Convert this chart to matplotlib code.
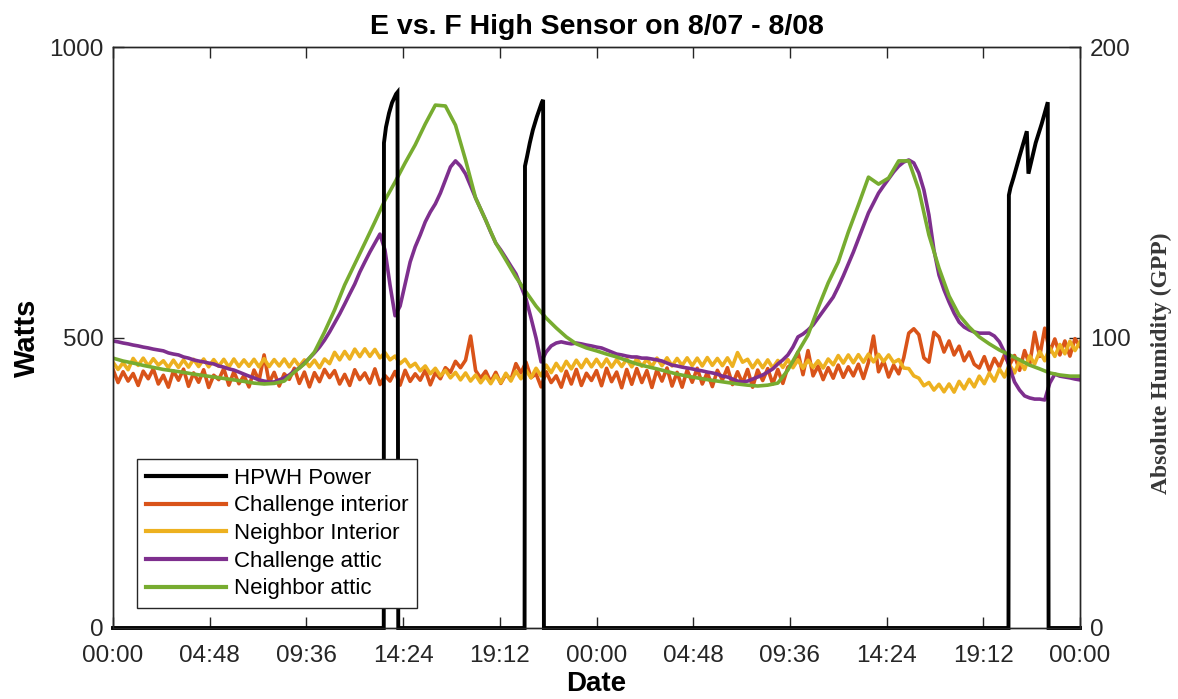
import numpy as np
import matplotlib
matplotlib.use("Agg")
import matplotlib.pyplot as plt

# ---------------- data ----------------
# HPWH power (W), event-based time stamps in hours since 8/07 00:00
power_hours = [0, 13.44, 13.45, 13.55, 13.7, 13.85, 14.05, 14.12, 14.16,
               20.43, 20.45, 20.55, 20.69, 20.84, 21.04, 21.29, 21.35, 21.39,
               44.45, 44.47, 44.55, 44.7, 45.0, 45.36, 45.44, 45.8, 46.1, 46.4, 46.44, 48]
power_watts = [0, 0, 835, 862, 886, 904, 919, 922, 0,
               0, 795, 811, 835, 857, 880, 905, 909, 0,
               0, 745, 758, 775, 812, 855, 782, 835, 868, 905, 0, 0]

# Absolute humidity (GPP), sampled every 15 minutes
challenge_interior = [
    89.0, 84.5, 88.2, 85.0,  87.6, 83.5, 88.4, 85.8,  89.2, 84.0, 87.0, 82.9,
    88.5, 85.3, 89.1, 83.2,  87.8, 84.6, 88.9, 82.8,  87.0, 85.5, 89.3, 83.6,
    88.2, 84.1, 86.9, 83.0,  88.8, 85.2, 94.0, 84.4,  88.0, 83.3, 87.5, 85.6,
    89.4, 84.2, 88.1, 83.0,  87.9, 84.8, 89.0, 86.2,  88.6, 84.0, 87.3, 83.5,
    88.9, 85.5, 87.8, 84.3,  89.2, 83.8, 86.9, 85.0,  88.3, 83.6, 88.7, 84.9,
    87.5, 85.3, 88.8, 83.7,  87.9, 85.8, 89.6, 88.0,  91.8, 89.6, 92.2, 100.5,
    88.6, 86.0, 88.4, 84.7,  88.0, 84.2, 87.3, 85.4,  91.0, 87.8, 91.5, 86.2,
    87.5, 83.0, 88.2, 84.5,  86.8, 82.9, 88.4, 84.0,  89.0, 83.5, 87.7, 85.2,
    88.6, 83.4, 89.4, 84.8,  88.1, 82.7, 89.0, 83.9,  89.3, 84.5, 88.6, 82.8,
    88.9, 85.0, 89.5, 83.3,  88.0, 82.9, 88.8, 84.6,  89.4, 84.0, 87.9, 83.1,
    88.7, 85.4, 89.6, 83.8,  88.2, 84.3, 89.0, 82.9,  88.8, 85.2, 89.3, 84.0,
    89.0, 84.2, 89.8, 91.0,  95.0, 87.2, 95.5, 86.8,  90.2, 85.5, 89.6, 86.0,
    90.5, 86.3, 89.9, 86.8,  90.8, 85.9, 91.5, 100.5, 88.2, 92.0, 86.4, 90.5,
    87.5, 93.0, 101.5, 103.0, 101.0, 93.0, 91.5, 101.8, 100.2, 95.0, 98.8, 94.0,
    97.0, 92.0, 95.0, 90.8,  89.5, 93.4, 88.6, 92.8,  89.8, 94.0, 90.5, 93.8,
    88.7, 95.5, 90.6, 101.8, 93.5, 103.2, 95.0, 99.5, 94.0, 98.8, 93.6, 99.6,
    97.0]

neighbor_interior = [
    91.5, 89.0, 91.3, 88.9,  92.8, 90.4, 92.9, 90.2,  92.7, 90.5, 92.0, 89.6,
    92.2, 89.7, 92.3, 89.8,  92.5, 90.0, 92.6, 89.9,  92.4, 90.1, 92.5, 89.8,
    92.6, 90.0, 92.3, 90.1,  92.5, 89.9, 92.7, 90.0,  92.4, 90.2, 92.6, 89.9,
    92.5, 90.1, 92.3, 90.0,  92.2, 89.6, 92.6, 91.0,  94.9, 92.3, 95.2, 92.6,
    96.0, 93.4, 96.1, 93.5,  95.9, 93.0, 94.8, 92.3,  93.6, 91.0, 92.5, 89.9,
    91.1, 88.5, 90.2, 87.5,  89.4, 86.8, 88.7, 86.1,  88.0, 85.4, 87.8, 85.0,
    87.1, 84.4, 86.7, 84.1,  87.0, 84.4, 87.7, 85.0,  88.4, 85.8, 88.7, 86.1,
    89.4, 86.8, 90.5, 87.9,  91.1, 88.5, 91.8, 89.2,  92.2, 89.6, 92.5, 89.9,
    92.5, 89.9, 92.6, 89.8,  92.4, 90.0, 92.6, 89.9,  92.7, 90.1, 92.5, 90.0,
    92.9, 90.3, 93.0, 90.2,  92.8, 90.4, 93.0, 90.3,  92.9, 90.2, 93.1, 90.4,
    92.8, 90.3, 93.0, 90.1,  94.8, 91.5, 92.5, 89.6,  92.2, 89.6, 92.3, 89.5,
    92.1, 89.7, 92.4, 89.6,  92.3, 89.4, 92.2, 89.7,  92.0, 89.5, 92.6, 90.6,
    93.8, 91.2, 94.0, 91.3,  94.1, 91.5, 94.3, 91.6,  94.2, 91.7, 94.0, 91.4,
    92.4, 89.5, 89.3, 86.8,  86.0, 83.4, 84.5, 81.9,  83.9, 81.3, 84.0, 81.2,
    84.9, 82.3, 85.6, 83.0,  86.7, 84.1, 87.8, 85.0,  89.2, 86.4, 90.6, 87.8,
    92.0, 89.0, 93.7, 90.9,  95.2, 92.0, 96.5, 93.5,  97.6, 94.4, 98.7, 95.5,
    98.5]

challenge_attic = [
    98.8, 98.5, 98.1, 97.8,  97.4, 97.1, 96.7, 96.4,  96.0, 95.7, 95.4, 94.7,
    94.3, 94.0, 93.3, 92.9,  92.3, 91.9, 91.6, 91.2,  90.9, 90.2, 89.8, 89.2,
    88.8, 88.1, 87.4, 86.7,  86.1, 85.4, 85.0, 84.7,  84.7, 85.4, 86.1, 87.1,
    88.5, 89.5, 91.2, 92.9,  94.7, 96.7, 99.1, 101.9, 105.0, 108.1, 111.5, 115.0,
    118.4, 122.5, 126.0, 129.4, 132.5, 135.6, 130.1, 118.1, 107.5, 110.8, 118.4, 126.0,
    131.2, 135.3, 139.8, 143.2, 146.0, 149.7, 154.2, 158.7, 160.8, 159.0, 156.3, 152.2,
    148.0, 144.2, 140.4, 136.3, 132.5, 130.1, 127.4, 124.6, 121.9, 117.7, 113.3, 106.7,
    99.8, 91.6, 95.0, 97.1,  98.1, 98.5, 98.1, 97.8,  98.1, 97.8, 97.4, 97.1,
    96.7, 96.4, 95.7, 95.0,  94.3, 94.0, 93.6, 93.3,  93.3, 92.9, 92.9, 92.6,
    92.3, 91.9, 91.2, 90.5,  90.2, 89.8, 89.5, 89.2,  88.8, 88.5, 88.1, 87.8,
    87.4, 86.7, 86.4, 85.7,  85.0, 84.7, 85.0, 85.7,  86.4, 87.1, 88.1, 89.2,
    90.9, 92.3, 94.0, 96.7,  100.2, 101.2, 102.6, 104.3, 106.7, 109.1, 111.5, 113.9,
    117.4, 121.2, 125.3, 129.4, 133.9, 138.4, 142.9, 146.3, 149.7, 152.2, 154.6, 157.0,
    159.0, 160.4, 161.1, 160.1, 156.6, 150.8, 142.2, 130.1, 121.5, 116.4, 112.2, 108.4,
    105.3, 103.6, 102.6, 101.9, 101.5, 101.5, 101.5, 100.5, 98.5, 95.0, 89.8, 84.7,
    81.9, 79.9, 79.2, 78.8,  78.8, 78.5, 84.3, 87.4,  86.7, 86.4, 86.1, 85.7,
    85.4]

# sampled every 30 minutes
neighbor_attic = [
    92.9, 91.9, 91.2, 90.4, 89.7, 89.0, 88.5, 88.0, 87.4, 86.9,
    86.4, 85.9, 85.4, 84.9, 84.3, 84.0, 84.2, 85.0, 88.1, 90.9,
    95.0, 101.9, 109.5, 118.1, 125.3, 132.5, 139.8, 147.3, 153.5, 160.1,
    166.3, 173.5, 180.0, 179.7, 173.1, 161.1, 148.0, 140.4, 132.5, 126.7,
    120.8, 115.7, 110.8, 106.7, 103.3, 100.2, 97.8, 96.4, 95.4, 94.3,
    93.3, 92.1, 90.9, 90.0, 89.2, 88.3, 87.4, 86.7, 86.1, 85.5,
    85.0, 84.5, 84.0, 83.6, 83.3, 83.6, 84.3, 88.8, 95.0, 100.9,
    110.2, 118.8, 126.0, 136.3, 145.6, 155.2, 152.8, 154.9, 160.8, 160.8,
    150.8, 135.3, 123.9, 114.3, 107.7, 103.6, 100.2, 97.8, 95.7, 94.0,
    92.3, 90.5, 89.2, 87.8, 87.1, 86.7, 86.7]

xtick_hours = [0, 4.8, 9.6, 14.4, 19.2, 24, 28.8, 33.6, 38.4, 43.2, 48]
xtick_labels = ["00:00", "04:48", "09:36", "14:24", "19:12", "00:00",
                "04:48", "09:36", "14:24", "19:12", "00:00"]

hours_q = np.arange(len(challenge_attic)) * 0.25
hours_h = np.arange(len(neighbor_attic)) * 0.5

# ---------------- plot ----------------
plt.rcParams['font.family'] = ['Liberation Sans', 'DejaVu Sans']
fig = plt.figure(figsize=(11.78, 6.99), dpi=100)
ax1 = fig.add_axes([113/1178, 1-628/699, (1080-113)/1178, (628-47)/699])
ax2 = ax1.twinx()

c_black = 'black'
c_orange = '#D95319'
c_yellow = '#EDB120'
c_purple = '#7E2F8E'
c_green = '#77AC30'
lw = 2.6

l2, = ax2.plot(hours_q[:len(challenge_interior)], challenge_interior, color=c_orange, lw=lw, label='Challenge interior')
l3, = ax2.plot(hours_q[:len(neighbor_interior)], neighbor_interior, color=c_yellow, lw=lw, label='Neighbor Interior')
l4, = ax2.plot(hours_q, challenge_attic, color=c_purple, lw=lw, label='Challenge attic')
l5, = ax2.plot(hours_h, neighbor_attic, color=c_green, lw=lw, label='Neighbor attic')

ax1.set_zorder(ax2.get_zorder() + 1)
ax1.patch.set_visible(False)
l1, = ax1.plot(power_hours, power_watts, color=c_black, lw=2.8, label='HPWH Power',
               clip_on=False, solid_joinstyle='miter')

ax1.set_xlim(0, 48)
ax1.set_ylim(0, 1000)
ax2.set_ylim(0, 200)
ax1.set_yticks([0, 500, 1000])
ax2.set_yticks([0, 100, 200])
ax1.set_xticks(xtick_hours)
ax1.set_xticklabels(xtick_labels)

spine_c = '#262626'
for ax in (ax1, ax2):
    for s in ax.spines.values():
        s.set_color(spine_c)
        s.set_linewidth(1.0)
ax1.tick_params(axis='both', direction='in', length=8, width=1, colors=spine_c,
                labelcolor='#262626', labelsize=17.5, top=True)
ax1.tick_params(axis='x', pad=12)
ax1.tick_params(axis='y', pad=7)
ax2.tick_params(axis='y', direction='in', length=8, width=1, colors=spine_c,
                labelcolor='#262626', labelsize=17.5, pad=7)

ax1.set_title('E vs. F High Sensor on 8/07 - 8/08', fontsize=20.5, fontweight='bold', pad=9)
ax1.set_xlabel('Date', fontsize=20, fontweight='bold', labelpad=3)
ax1.set_ylabel('Watts', fontsize=21, fontweight='bold', labelpad=6)
ax2.set_ylabel('Absolute Humidity (GPP)', fontsize=17, fontweight='bold',
               family=['Liberation Serif', 'DejaVu Serif'], color='#383838',
               va='center')
ax2.yaxis.set_label_coords(1.0845, 0.455)

leg = ax1.legend(handles=[l1, l2, l3, l4, l5], loc='lower left',
                 bbox_to_anchor=(0.025, 0.034), borderaxespad=0, fontsize=16,
                 frameon=True, fancybox=False, framealpha=1, edgecolor='#262626',
                 handlelength=3.6, handletextpad=0.35, labelspacing=0.3,
                 borderpad=0.4)
leg.get_frame().set_linewidth(1.0)
for h in leg.get_lines():
    h.set_linewidth(3)

fig.savefig('out.png', dpi=100)
